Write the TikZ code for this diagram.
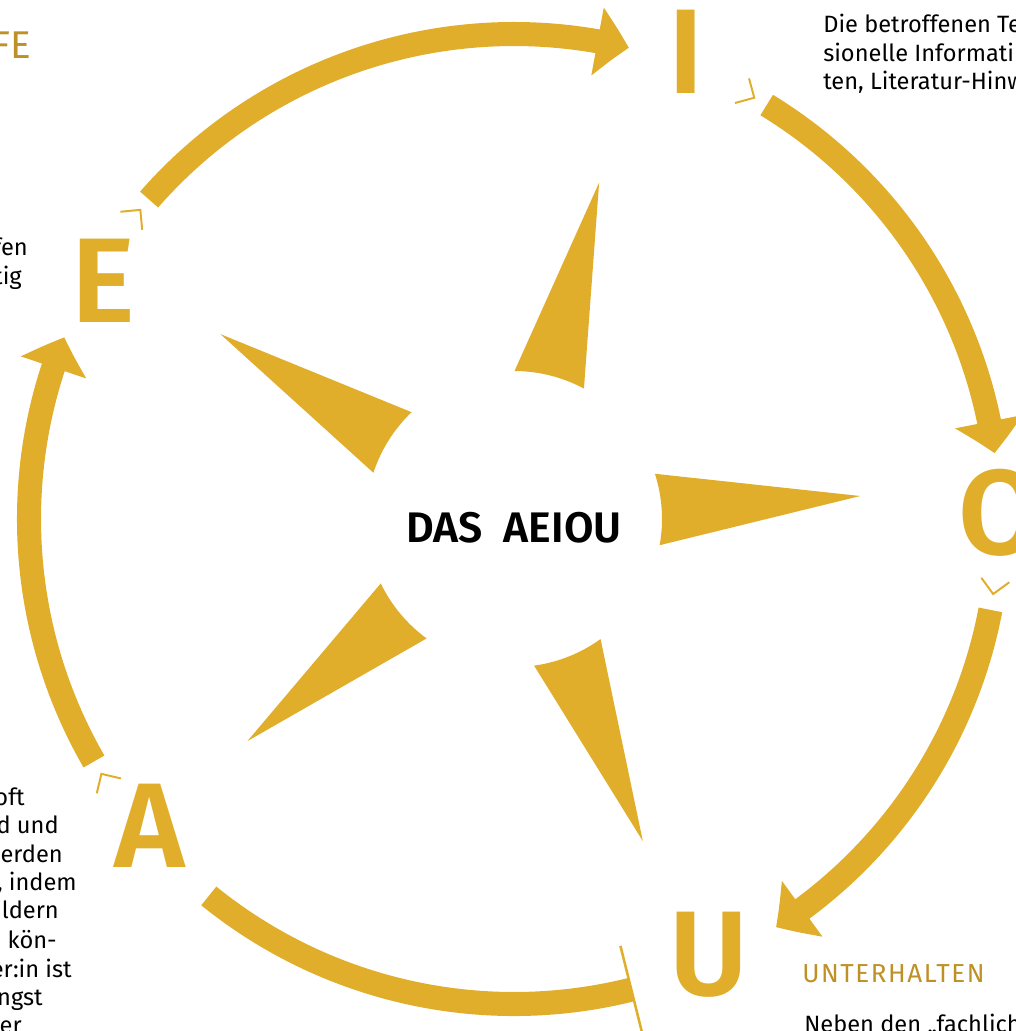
\documentclass[tikz,border=0pt]{standalone}
\usepackage{fontspec}
\setmainfont{Fira Sans}
\newfontfamily\aeioufont{Fira Sans SemiBold}
\newfontfamily\headfont{Fira Sans}[LetterSpace=6]
\usetikzlibrary{calc,arrows.meta,bending}

\definecolor{aeiougold}{HTML}{E1AE2C}
\definecolor{headgold}{HTML}{BE9126}

\tikzset{
  ring/.style={draw=aeiougold, line width=17.1pt},
  ringtip/.style={-{Triangle[length=22.8pt,width=47.7pt,bend]}},
  marker/.style={draw=aeiougold, line width=1.4pt},
  cut/.style={draw=aeiougold, line width=1.8pt},
  letter/.style={text=aeiougold, font=\aeioufont\fontsize{85.7}{86}\selectfont, inner sep=0, anchor=base},
  body/.style={font=\fontsize{16.8}{20.3}\selectfont, inner sep=0},
  heading/.style={text=headgold, font=\headfont\fontsize{18.5}{22}\selectfont, inner sep=0},
}

\begin{document}
\begin{tikzpicture}[x=0.025cm, y=0.025cm]
        \useasboundingbox (0,0) rectangle (1016,-1031);
        \clip (0,0) rectangle (1016,-1031);
        \coordinate (C) at (514,-519);
        %
        % star
        \foreach \t in {3.8,75.8,147.8,219.8,291.8}{
            \pgfmathsetmacro{\ta}{\t-14}
            \pgfmathsetmacro{\tb}{\t+14}
            \fill[aeiougold] ($(C)+(\tb:148)$) -- ($(C)+(\t:347)$) -- ($(C)+(\ta:148)$)
                arc[start angle=\ta, end angle=\tb, radius=148] -- cycle;
        }
        \node[font=\aeioufont\fontsize{30.4}{32}\selectfont, inner sep=0, anchor=base] (title) at (514,-542) {DAS\ \ AEIOU};
        %
        % letters
        \node[letter] (I) at (686,-94) {I};
        \node[letter] (O) at (1000,-554) {O};
        \node[letter] (U) at (709,-995) {U};
        \node[letter] (A) at (150,-867) {A};
        \node[letter] (E) at (103,-322) {E};
        %
        % ring
        \coordinate (ae0) at ($(C)+(210:485)$);
        \coordinate (ei0) at ($(C)+(138.8:485)$);
        \coordinate (io0) at ($(C)+(58.6:485)$);
        \coordinate (ou0) at ($(C)+(-10.8:485)$);
        \coordinate (ua0) at ($(C)+(-76:485)$);
        \draw[ring, ringtip] (ae0) arc[start angle=210, end angle=158, radius=485];
        \draw[ring, ringtip] (ei0) arc[start angle=138.8, end angle=76.3, radius=485];
        \draw[ring, ringtip] (io0) arc[start angle=58.6, end angle=7.8, radius=485];
        \draw[ring, ringtip] (ou0) arc[start angle=-10.8, end angle=-57.3, radius=485];
        \draw[ring] (ua0) arc[start angle=-76, end angle=-129, radius=485];
        \coordinate (cut0) at ($(C)+(-76:440)$);
        \coordinate (cut1) at ($(C)+(-76:550)$);
        \draw[cut] (cut0) -- (cut1);
        \foreach \m in {211.7,140.4,60.3,-8.9}{
            \coordinate (mk) at ($(C)+(\m:485)$);
            \draw[marker] ($(mk)+(\m+135:20)$) -- (mk) -- ($(mk)+(\m+45:20)$);
        }
        %
        % text around
        \node[heading, font=\fontsize{27.5}{30}\selectfont, anchor=base east] (fe) at (31,-59) {FE};
        \node[body, anchor=base east] (l1) at (28,-255) {fen};
        \node[body, anchor=base east] (l2) at (22,-284) {tig};
        \node[body, anchor=base east] (a1) at (25,-805) {oft};
        \node[body, anchor=base east] (a2) at (59,-833) {d und};
        \node[body, anchor=base east] (a3) at (63,-862) {werden};
        \node[body, anchor=base east] (a4) at (77,-890) {, indem};
        \node[body, anchor=base east] (a5) at (59,-918) {ildern};
        \node[body, anchor=base east] (a6) at (57,-948) {n kön-};
        \node[body, anchor=base east] (a7) at (72,-977) {er:in ist};
        \node[body, anchor=base east] (a8) at (43,-1005) {ngst};
        \node[body, anchor=base east] (a9) at (22,-1033) {er};
        \node[body, anchor=base west] (r1) at (823,-33) {Die betroffenen Te};
        \node[body, anchor=base west] (r2) at (823,-62) {sionelle Informati};
        \node[body, anchor=base west] (r3) at (823,-90) {ten, Literatur-Hinw};
        \node[heading, anchor=base west] (uh) at (802,-982) {UNTERHALTEN};
        \node[body, anchor=base west] (u1) at (804,-1032) {Neben den „fachlich};
\end{tikzpicture}
\end{document}
